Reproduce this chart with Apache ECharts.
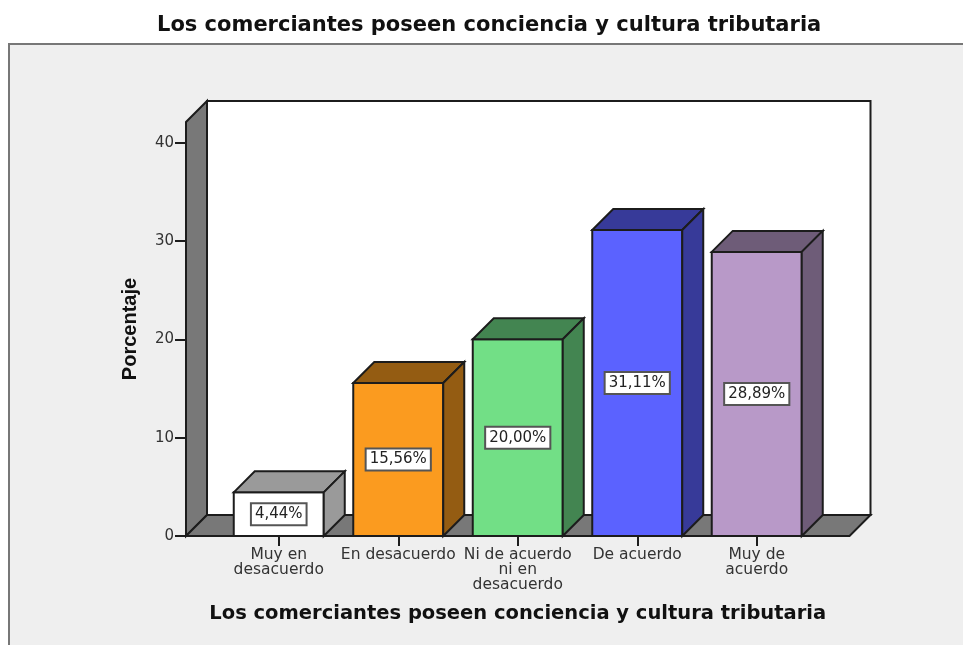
<!DOCTYPE html>
<html>
<head>
<meta charset="utf-8">
<title>Conciencia y cultura tributaria</title>
<script src="https://cdn.jsdelivr.net/npm/echarts@6/dist/echarts.min.js"></script>
<style>
  html, body { margin: 0; padding: 0; background: #fff; }
  #chart { width: 963px; height: 645px; }
</style>
</head>
<body>
<div id="chart"></div>
<script>
const tituloTexto = 'Los comerciantes poseen conciencia y cultura tributaria'
const categorias = ['Muy en\ndesacuerdo', 'En desacuerdo', 'Ni de acuerdo\nni en\ndesacuerdo', 'De acuerdo', 'Muy de\nacuerdo']
const porcentajes = [4.44, 15.56, 20.0, 31.11, 28.89]
const yTicks = [0, 10, 20, 30, 40]

const coloresFrente = ['#ffffff', '#fb9b1f', '#72df86', '#5b62ff', '#b899c8']
const coloresLado = ['#9a9a9a', '#945c12', '#438551', '#373a99', '#6e5c78']

const PROF = 21 // profundidad del efecto 3D
const PAD = 33 // margen entre el piso y la primera/ultima categoria
const ANCHO_BARRA = 90
const LINEA = '#1c1c1c'

const chart = echarts.init(document.getElementById('chart'), null, { renderer: 'canvas' })

function poly(points, fill, width) {
  return {
    type: 'polygon',
    shape: { points: points },
    style: { fill: fill, stroke: LINEA, lineWidth: width || 2, lineJoin: 'miter' }
  }
}

// paredes y piso, sacados del rectangulo del grid
function renderCaja(params, api) {
  const g = params.coordSys
  const x0 = g.x - PAD
  const x1 = g.x + g.width + PAD
  const yTop = g.y
  const yBase = g.y + g.height
  return {
    type: 'group',
    children: [
      poly([[x0 + PROF, yTop - PROF], [x1 + PROF, yTop - PROF], [x1 + PROF, yBase - PROF], [x0 + PROF, yBase - PROF]], '#ffffff'),
      poly([[x0, yTop], [x0 + PROF, yTop - PROF], [x0 + PROF, yBase - PROF], [x0, yBase]], '#787878'),
      poly([[x0, yBase], [x0 + PROF, yBase - PROF], [x1 + PROF, yBase - PROF], [x1, yBase]], '#787878')
    ]
  }
}

function renderBarra(params, api) {
  const i = api.value(0)
  const v = api.value(1)
  const tope = api.coord([i, v])
  const base = api.coord([i, 0])
  const l = tope[0] - ANCHO_BARRA / 2
  const r = tope[0] + ANCHO_BARRA / 2
  return {
    type: 'group',
    children: [
      poly([[l, base[1]], [l, tope[1]], [r, tope[1]], [r, base[1]]], coloresFrente[i]),
      poly([[l, tope[1]], [l + PROF, tope[1] - PROF], [r + PROF, tope[1] - PROF], [r, tope[1]]], coloresLado[i]),
      poly([[r, tope[1]], [r + PROF, tope[1] - PROF], [r + PROF, base[1] - PROF], [r, base[1]]], coloresLado[i]),
      {
        type: 'text',
        z2: 10,
        style: {
          x: tope[0],
          y: (tope[1] + base[1]) / 2,
          text: v.toFixed(2).replace('.', ',') + '%',
          align: 'center',
          verticalAlign: 'middle',
          font: '15px "DejaVu Sans"',
          fill: '#222',
          backgroundColor: '#fff',
          borderColor: '#555',
          borderWidth: 2,
          padding: [3, 3, 2, 3]
        }
      }
    ]
  }
}

chart.setOption({
  animation: false,
  backgroundColor: '#fff',
  title: {
    text: tituloTexto,
    left: 157,
    top: 15,
    padding: 0,
    textStyle: { fontFamily: 'DejaVu Sans', fontWeight: 'bold', fontSize: 21, color: '#111' }
  },
  graphic: [
    {
      type: 'rect',
      z: -1,
      shape: { x: 9, y: 44, width: 970, height: 620 },
      style: { fill: '#efefef', stroke: '#777', lineWidth: 2 }
    }
  ],
  grid: { left: 219, right: 146.5, top: 122, bottom: 109 },
  xAxis: {
    type: 'category',
    data: categorias,
    name: tituloTexto,
    nameLocation: 'middle',
    nameGap: 68,
    nameTextStyle: { fontFamily: 'DejaVu Sans', fontWeight: 'bold', fontSize: 19.5, color: '#111' },
    axisLine: { show: false },
    axisTick: { show: true, alignWithLabel: true, length: 10, lineStyle: { color: LINEA, width: 2 } },
    axisLabel: { interval: 0, margin: 11, fontFamily: 'DejaVu Sans', fontSize: 15.5, lineHeight: 15, color: '#333' }
  },
  yAxis: {
    type: 'value',
    min: 0,
    max: 42.1,
    interval: 10,
    offset: 33,
    name: 'Porcentaje',
    nameLocation: 'middle',
    nameGap: 46,
    nameTextStyle: { fontFamily: 'Liberation Sans', fontWeight: 'bold', fontSize: 20, color: '#111' },
    splitLine: { show: false },
    axisLine: { show: false },
    axisTick: { show: true, length: 11, customValues: yTicks, lineStyle: { color: LINEA, width: 2 } },
    axisLabel: { margin: 12, padding: [4, 0, 0, 0], customValues: yTicks, fontFamily: 'DejaVu Sans', fontSize: 15, color: '#333' }
  },
  series: [
    {
      type: 'custom',
      silent: true,
      z: 1,
      clip: false,
      renderItem: renderCaja,
      data: [0]
    },
    {
      type: 'custom',
      z: 2,
      clip: false,
      renderItem: renderBarra,
      encode: { x: 0, y: 1 },
      data: porcentajes.map((v, i) => [i, v])
    }
  ]
})
</script>
</body>
</html>
